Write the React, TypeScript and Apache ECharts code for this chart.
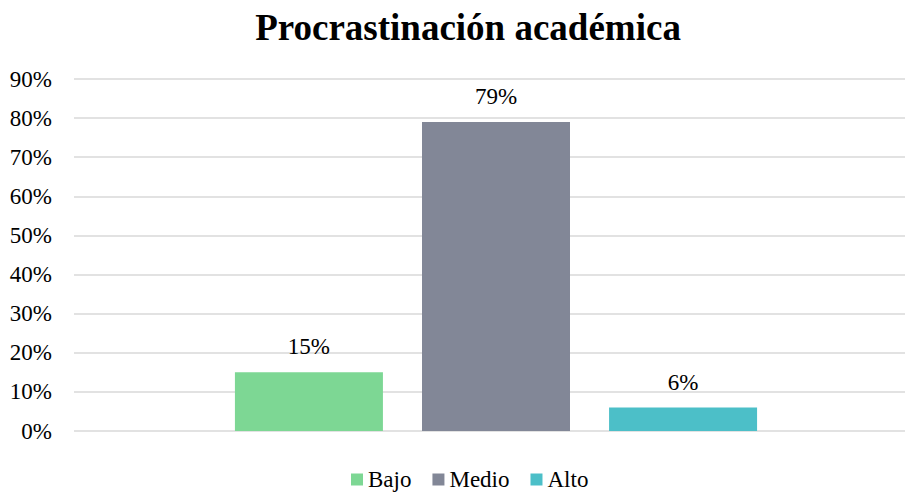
import React, { useEffect, useRef } from "react";
import * as echarts from "echarts";

const categories = ["Procrastinación académica"];
const seriesNames = ["Bajo", "Medio", "Alto"];
const seriesValues = [15, 79, 6];
const seriesColors = ["#7DD794", "#828797", "#4CBFC8"];
const yTicks = [0, 10, 20, 30, 40, 50, 60, 70, 80, 90];

export default function App() {
  const ref = useRef<HTMLDivElement>(null);
  useEffect(() => {
    if (!ref.current) return;
    const chart = echarts.init(ref.current, undefined, { renderer: "svg" });
    const font = "Liberation Serif";
    chart.setOption({
      animation: false,
      textStyle: { fontFamily: font },
      title: {
        text: "Procrastinación académica",
        left: 463,
        textAlign: "center",
        top: 4,
        textStyle: { fontFamily: font, fontSize: 37, fontWeight: "bold", color: "#000" },
      },
      legend: {
        bottom: -3,
        left: 346,
        itemWidth: 12,
        itemHeight: 12,
        itemGap: 21,
        icon: "rect",
        textStyle: { fontFamily: font, fontSize: 23, color: "#000" },
        data: seriesNames,
      },
      grid: {
        left: 74,
        right: -13,
        top: 79,
        bottom: 62,
        containLabel: false,
        outerBoundsMode: "none",
      },
      xAxis: {
        type: "category",
        data: categories,
        axisLine: { show: false },
        axisTick: { show: false },
        axisLabel: { show: false },
      },
      yAxis: {
        type: "value",
        min: yTicks[0],
        max: yTicks[yTicks.length - 1],
        interval: 10,
        axisLabel: {
          formatter: "{value}%",
          fontFamily: font,
          fontSize: 23,
          color: "#000",
          margin: 22,
        },
        axisLine: { show: false },
        axisTick: { show: false },
        splitLine: { lineStyle: { color: "#D9D9D9", width: 1.5 } },
      },
      series: seriesNames.map((name, i) => ({
        name,
        type: "bar",
        barWidth: 148,
        barGap: "26.4%",
        itemStyle: { color: seriesColors[i] },
        label: {
          show: true,
          position: "top",
          distance: 14,
          formatter: "{c}%",
          fontFamily: font,
          fontSize: 23,
          color: "#000",
        },
        data: [seriesValues[i]],
      })),
    });
    return () => chart.dispose();
  }, []);
  return <div ref={ref} style={{ width: 905, height: 493, position: "absolute", left: 0, top: 0 }} />;
}
